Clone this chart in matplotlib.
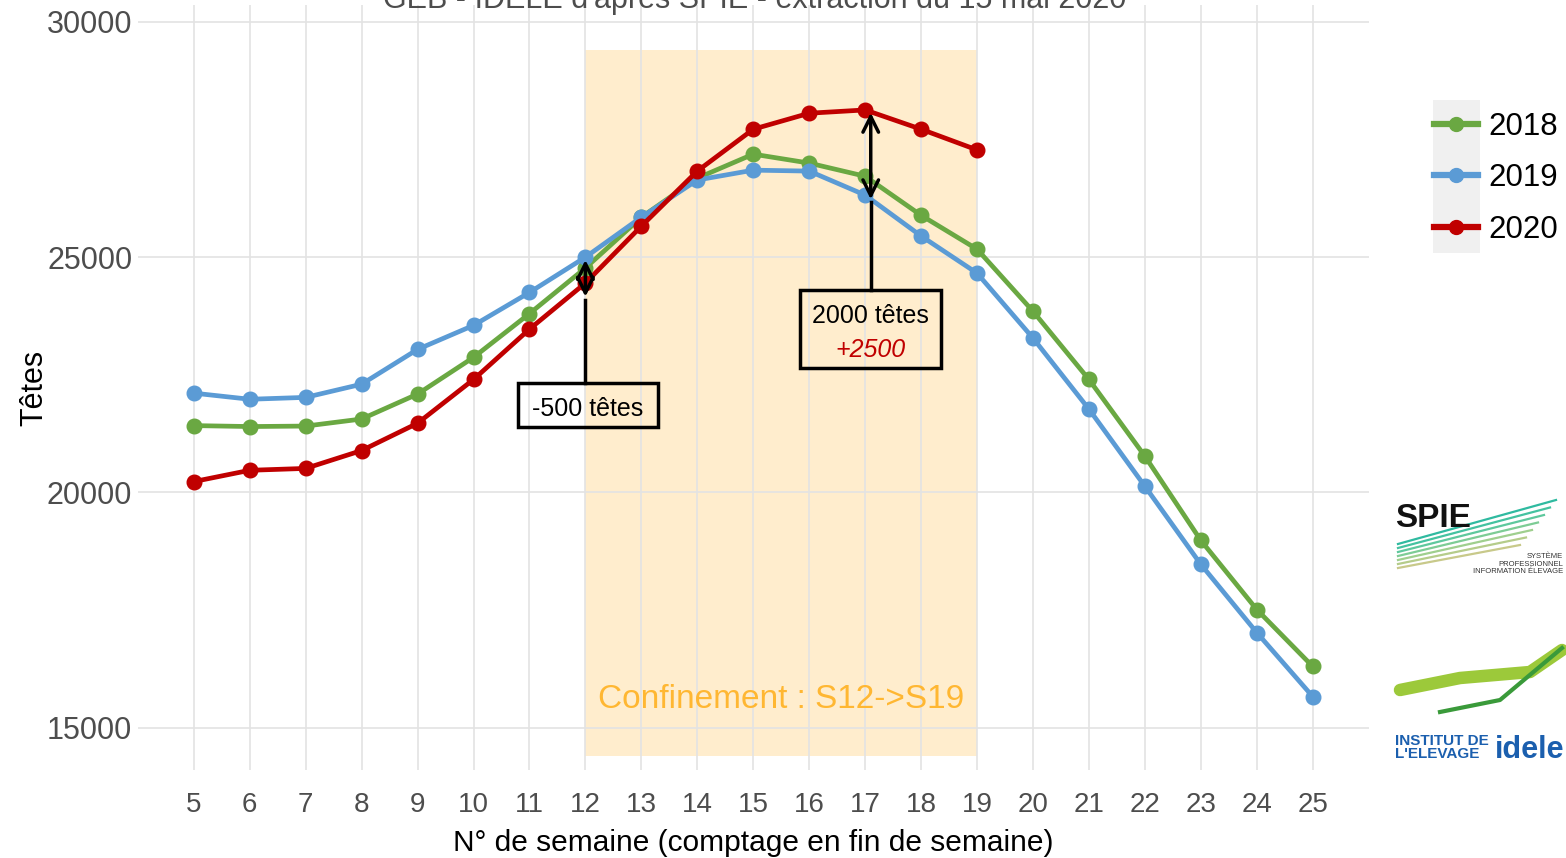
import matplotlib.pyplot as plt
from matplotlib.patches import Rectangle
from matplotlib.lines import Line2D

plt.rcParams['font.family'] = ['Liberation Sans', 'DejaVu Sans']

weeks = list(range(5, 26))
v2018 = [21420, 21400, 21410, 21560, 22090, 22870, 23800, 24770, 25850, 26680,
         27190, 27000, 26720, 25890, 25170, 23850, 22400, 20770, 18980, 17510, 16300]
v2019 = [22110, 21980, 22020, 22300, 23040, 23550, 24250, 25000, 25850, 26640,
         26850, 26830, 26320, 25450, 24660, 23280, 21770, 20130, 18470, 17020, 15660]
weeks_2020 = list(range(5, 20))
v2020 = [20230, 20470, 20510, 20890, 21470, 22400, 23470, 24450, 25660, 26830,
         27720, 28060, 28130, 27720, 27280]

conf_weeks = [12, 19]
conf_range = [14400, 29400]

c18, c19, c20 = '#6aa842', '#5b9bd5', '#c00000'
W, H = 1566, 858

fig = plt.figure(figsize=(15.66, 8.58), dpi=100)
ax = fig.add_axes([0.088, 0.1026, 0.786, 0.891])

ax.add_patch(Rectangle((conf_weeks[0], conf_range[0]), conf_weeks[1] - conf_weeks[0],
                       conf_range[1] - conf_range[0], facecolor='#ffd68a', alpha=0.42,
                       edgecolor='none', zorder=0.5))

handles = []
for xs, ys, c, lab in [(weeks, v2018, c18, '2018'), (weeks, v2019, c19, '2019'),
                       (weeks_2020, v2020, c20, '2020')]:
    ax.plot(xs, ys, color=c, lw=3.4, marker='o', ms=10.5, zorder=3)
    handles.append(Line2D([], [], color=c, lw=4.5, marker='o', ms=10, label=lab))

ax.set_xlim(4.0, 26.0)
ax.set_ylim(14100, 30350)
ax.set_xticks(weeks)
ax.set_yticks([15000, 20000, 25000, 30000])
ax.grid(True, color='#e3e3e3', lw=1.2)
ax.set_axisbelow(True)
for s in ax.spines.values():
    s.set_visible(False)
ax.tick_params(axis='x', length=0, labelsize=20, labelcolor='#4d4d4d', pad=16)
ax.tick_params(axis='y', length=0, labelsize=22, labelcolor='#4d4d4d', pad=4)
ax.set_xlabel('N° de semaine (comptage en fin de semaine)', fontsize=21.5, labelpad=8)
ax.set_ylabel('Têtes', fontsize=22, labelpad=-2)

ax.text(15.5, 15600, 'Confinement : S12->S19', color='#ffb732', fontsize=24,
        ha='center', va='center', zorder=4)

# annotation 1 : -500 tetes
i12 = weeks.index(12)
low12 = v2020[weeks_2020.index(12)] - 350
ax.annotate('', xy=(12, v2019[i12]), xytext=(12, low12),
            arrowprops=dict(arrowstyle='<->', lw=2.5, color='black',
                            mutation_scale=28), zorder=5)
ax.plot([12, 12], [low12, 22320], color='black', lw=2.5, zorder=5)
ax.add_patch(Rectangle((10.79, 21380), 2.51, 940, facecolor='none', edgecolor='black',
                       lw=2.5, zorder=5))
ax.text(12.04, 21780, '-500 têtes', fontsize=18, ha='center', va='center', zorder=6)

# annotation 2 : 2000 tetes / +2500
i17 = weeks.index(17)
low17 = v2019[i17] - 150
ax.annotate('', xy=(17.1, v2020[weeks_2020.index(17)]), xytext=(17.1, low17),
            arrowprops=dict(arrowstyle='<->', lw=2.5, color='black',
                            mutation_scale=28), zorder=5)
ax.plot([17.1, 17.1], [low17, 24300], color='black', lw=2.5, zorder=5)
ax.add_patch(Rectangle((15.84, 22640), 2.52, 1660, facecolor='none', edgecolor='black',
                       lw=2.5, zorder=5))
ax.text(17.1, 23750, '2000 têtes', fontsize=18, ha='center', va='center', zorder=6)
ax.text(17.1, 23020, '+2500', fontsize=18, ha='center', va='center', color=c20,
        style='italic', zorder=6)

# legend with grey key background
fig.patches.append(Rectangle((1433 / W, 1 - 253 / H), 47 / W, 153 / H,
                             transform=fig.transFigure, facecolor='#f0f0f0',
                             edgecolor='none', zorder=-1))
fig.legend(handles=handles, loc='upper left', bbox_to_anchor=(1434 / W, 1 - 112 / H),
           frameon=False, fontsize=22.5, handlelength=1.4, handletextpad=0.35,
           labelspacing=0.68, borderaxespad=0, borderpad=0)

fig.text(0.482, 1 - 8 / H, "GEB - IDELE d'après SPIE - extraction du 15 mai 2020",
         fontsize=22, color='#4d4d4d', ha='center', va='baseline')

# logos (approximations)
for k in range(7):
    fig.lines.append(Line2D([1398 / W, 1520 / W + k * 6 / W],
                            [1 - (568 - k * 4) / H, 1 - (545 - k * 7.5) / H],
                            transform=fig.transFigure, lw=1.6,
                            color=['#c8c98a', '#b5cc8a', '#9fcf8e', '#7dcc95',
                                   '#5ec89d', '#44c2a0', '#2fbaa0'][k]))
fig.text(1395 / W, 1 - 527 / H, 'SPIE', fontsize=24, weight='bold', color='#111111')
fig.text(0.998, 1 - 573 / H, 'SYSTÈME\nPROFESSIONNEL\nINFORMATION ÉLEVAGE',
         fontsize=5.5, color='#333333', ha='right', multialignment='right',
         linespacing=1.1)
fig.lines.append(Line2D([1400 / W, 1460 / W, 1530 / W, 1562 / W],
                        [1 - 690 / H, 1 - 678 / H, 1 - 672 / H, 1 - 650 / H],
                        transform=fig.transFigure, lw=9, color='#9cc93a',
                        solid_capstyle='round'))
fig.lines.append(Line2D([1440 / W, 1500 / W, 1562 / W],
                        [1 - 712 / H, 1 - 700 / H, 1 - 648 / H],
                        transform=fig.transFigure, lw=3, color='#3a9a3a'))
fig.text(1395 / W, 1 - 758 / H, "INSTITUT DE\nL'ELEVAGE", fontsize=11,
         weight='bold', color='#1b5fae', linespacing=0.95)
fig.text(0.999, 1 - 758 / H, 'idele', fontsize=22, weight='bold', color='#1b5fae',
         ha='right')

fig.savefig('out.png', dpi=100)
